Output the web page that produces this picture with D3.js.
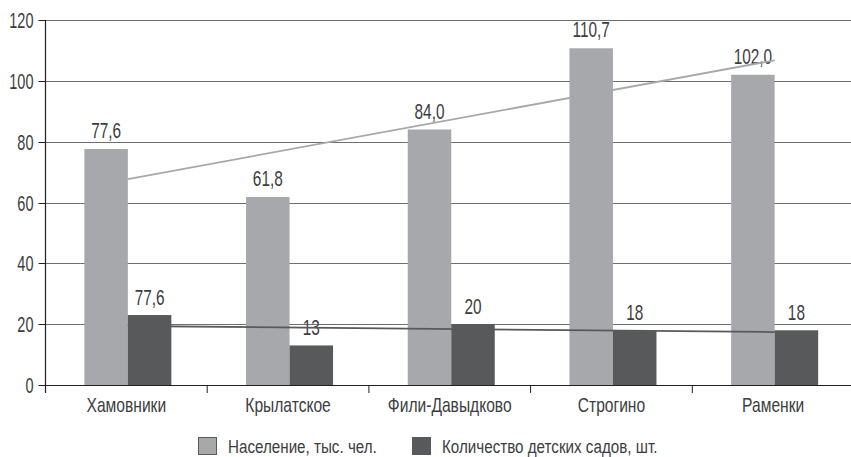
<!DOCTYPE html>
<html>
<head>
<meta charset="utf-8">
<script src="https://cdn.jsdelivr.net/npm/d3@7"></script>
<style>
  body { margin: 0; background: #fff; }
  text { font-family: "Liberation Sans", Arial, sans-serif; fill: #3d3d3f; }
</style>
</head>
<body>
<script>
// data
var districts = ["Хамовники", "Крылатское", "Фили-Давыдково", "Строгино", "Раменки"];
var population = [77.6, 61.8, 84.0, 110.7, 102.0];
var kindergartens = [23, 13, 20, 18, 18];
var populationLabels = ["77,6", "61,8", "84,0", "110,7", "102,0"];
var kindergartenLabels = ["77,6", "13", "20", "18", "18"];
var seriesNames = ["Население, тыс. чел.", "Количество детских садов, шт."];
var yTicks = [0, 20, 40, 60, 80, 100, 120];

var colors = ["#a7a8ab", "#58595b"];

var W = 851, H = 457;
var margin = {top: 20, right: 0, bottom: 72, left: 45.5},
    width = 808.5,
    height = H - margin.top - margin.bottom;

var svg = d3.select("body").append("svg")
    .attr("width", W)
    .attr("height", H);

var g = svg.append("g")
    .attr("transform", "translate(" + margin.left + "," + margin.top + ")");

var x = d3.scaleBand().domain(districts).range([0, width]).padding(0);
var y = d3.scaleLinear().domain([0, 120]).range([height, 0]);

var barW = 43.5, shift = 1.5;

// condensed text: the original uses a narrow face, so squeeze horizontally
function ctext(parent, px, py, str, size, sx, anchor) {
  return parent.append("text")
    .attr("transform", "translate(" + px + "," + py + ") scale(" + sx + ",1)")
    .attr("text-anchor", anchor || "middle")
    .attr("font-size", size)
    .text(str);
}

// gridlines
g.selectAll(".grid").data(yTicks).enter().append("line")
    .attr("x1", 0).attr("x2", width)
    .attr("y1", function(d) { return Math.round(y(d)) + 0.5; })
    .attr("y2", function(d) { return Math.round(y(d)) + 0.5; })
    .attr("stroke", "#6d6e71").attr("stroke-width", 1.2);

// y ticks + labels
g.selectAll(".ytick").data(yTicks).enter().append("line")
    .attr("x1", -7).attr("x2", 0)
    .attr("y1", function(d) { return Math.round(y(d)) + 0.5; })
    .attr("y2", function(d) { return Math.round(y(d)) + 0.5; })
    .attr("stroke", "#231f20");
yTicks.forEach(function(d) {
  ctext(g, -12, y(d) + 8, d, 22, 0.66, "end");
});

// bars
var groups = g.selectAll(".cat").data(districts).enter().append("g")
    .attr("transform", function(d) { return "translate(" + (x(d) + x.bandwidth() / 2 + shift) + ",0)"; });

groups.append("rect")
    .attr("x", -barW)
    .attr("y", function(d, i) { return y(population[i]); })
    .attr("width", barW)
    .attr("height", function(d, i) { return height - y(population[i]); })
    .attr("fill", colors[0]);

groups.append("rect")
    .attr("x", 0)
    .attr("y", function(d, i) { return y(kindergartens[i]); })
    .attr("width", barW)
    .attr("height", function(d, i) { return height - y(kindergartens[i]); })
    .attr("fill", colors[1]);

groups.each(function(d, i) {
  var gg = d3.select(this);
  ctext(gg, -barW / 2, y(population[i]) - 11, populationLabels[i], 22, 0.7);
  ctext(gg, barW / 2, y(kindergartens[i]) - 10, kindergartenLabels[i], 22, 0.7);
});

// linear trend lines
function trend(vals) {
  var n = vals.length, mx = (n - 1) / 2, my = d3.mean(vals);
  var num = d3.sum(vals, function(v, i) { return (i - mx) * (v - my); });
  var den = d3.sum(vals, function(v, i) { return (i - mx) * (i - mx); });
  var b = num / den;
  return [my - b * mx, my + b * (n - 1 - mx)];
}
[population, kindergartens].forEach(function(vals, k) {
  var t = trend(vals);
  g.append("line")
    .attr("x1", x(districts[0]) + x.bandwidth() / 2 + shift)
    .attr("x2", x(districts[districts.length - 1]) + x.bandwidth() / 2 + shift)
    .attr("y1", y(t[0]))
    .attr("y2", y(t[1]))
    .attr("stroke", k === 0 ? "#a7a8ab" : "#58595b")
    .attr("stroke-width", 1.8);
});

// x axis
g.append("line")
    .attr("x1", 0).attr("x2", width)
    .attr("y1", height + 0.5).attr("y2", height + 0.5)
    .attr("stroke", "#231f20").attr("stroke-width", 1.2);
g.append("line")
    .attr("x1", 0).attr("x2", 0)
    .attr("y1", 0).attr("y2", height + 8)
    .attr("stroke", "#231f20").attr("stroke-width", 1.2);
g.selectAll(".xtick").data(districts.slice(1)).enter().append("line")
    .attr("x1", function(d) { return x(d); })
    .attr("x2", function(d) { return x(d); })
    .attr("y1", height).attr("y2", height + 8)
    .attr("stroke", "#231f20");
districts.forEach(function(d) {
  ctext(g, x(d) + x.bandwidth() / 2, height + 27, d, 20, 0.78);
});

// legend
var legendX = [198, 412];
seriesNames.forEach(function(name, i) {
  svg.append("rect")
    .attr("x", legendX[i] + 0.5).attr("y", 437.5)
    .attr("width", 18).attr("height", 17)
    .attr("fill", colors[i])
    .attr("stroke", "#58595b");
  ctext(svg, legendX[i] + 30, 453, name, 19, 0.8, "start");
});
</script>
</body>
</html>
